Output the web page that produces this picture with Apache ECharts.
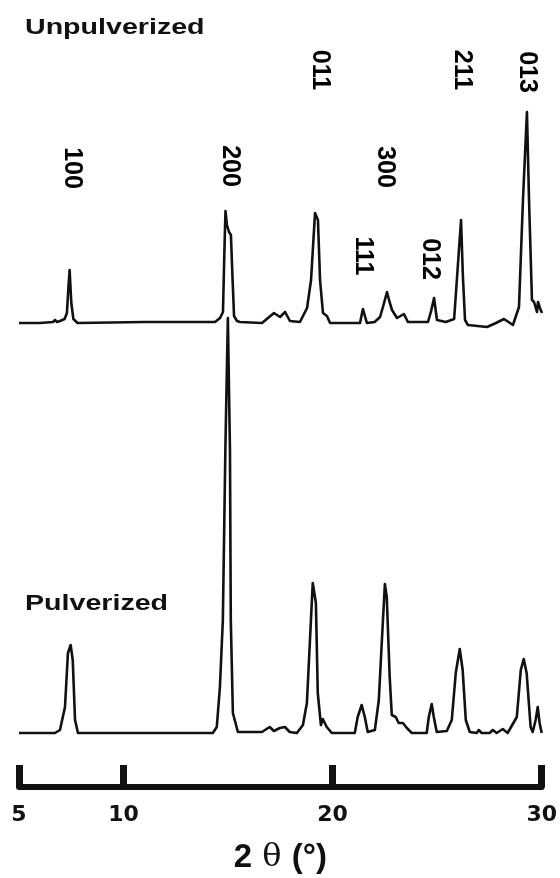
<!DOCTYPE html>
<html>
<head>
<meta charset="utf-8">
<script src="https://cdn.jsdelivr.net/npm/echarts@6/dist/echarts.min.js"></script>
<style>
  html, body { margin: 0; background: #fff; }
  #chart { width: 560px; height: 878px; }
</style>
</head>
<body>
<div id="chart"></div>
<script>
// XRD traces: [2θ (deg), intensity (a.u.)]
const unpulverized = [
  [5.0,0],[6.0,0],[6.62,1],[6.72,3],[6.82,1],[6.96,2],[7.18,4],[7.29,10],[7.36,35],[7.42,53],
  [7.5,20],[7.6,4],[7.8,0],[11.0,1],[14.37,1],[14.61,5],[14.75,11],[14.82,73],[14.87,112],
  [14.94,98],[15.04,91],[15.13,88],[15.21,43],[15.28,7],[15.42,2],[15.56,1],[16.62,0],
  [16.9,5],[17.19,10],[17.48,6],[17.72,11],[17.95,2],[18.43,1],[18.77,15],[18.96,43],
  [19.15,110],[19.29,103],[19.39,43],[19.53,10],[19.72,7],[19.87,0],[21.3,0],[21.44,14],
  [21.63,0],[22.0,1],[22.26,6],[22.45,20],[22.59,31],[22.7,22],[22.83,13],[23.07,5],
  [23.4,9],[23.59,1],[24.55,1],[24.7,12],[24.84,25],[24.98,3],[25.4,1],[25.8,4],
  [25.94,46],[26.03,48],[26.13,103],[26.22,46],[26.32,3],[26.46,-2],[27.37,-4],[27.8,0],
  [28.18,4],[28.4,1],[28.61,-2],[28.9,16],[29.09,123],[29.28,211],[29.38,123],[29.52,23],
  [29.62,21],[29.76,11],[29.81,21],[29.9,15],[30.0,10]
];
const pulverized = [
  [5.0,0],[6.72,0],[6.96,3],[7.2,26],[7.34,80],[7.47,88],[7.57,73],[7.68,13],[7.82,0],
  [14.27,0],[14.46,6],[14.61,46],[14.75,113],[14.87,283],[14.99,415],[15.09,283],[15.13,113],
  [15.23,20],[15.47,1],[16.62,1],[16.99,6],[17.19,2],[17.48,5],[17.72,6],[17.95,1],[18.29,0],
  [18.58,8],[18.77,30],[18.91,90],[19.05,150],[19.2,130],[19.29,40],[19.44,8],[19.53,14],
  [19.72,6],[19.96,0],[21.06,0],[21.2,16],[21.39,28],[21.54,16],[21.68,1],[22.02,3],
  [22.21,33],[22.35,90],[22.5,149],[22.59,136],[22.73,56],[22.83,18],[23.02,16],[23.16,10],
  [23.36,10],[23.55,5],[23.79,0],[24.5,0],[24.6,16],[24.74,29],[24.84,16],[24.98,1],
  [25.46,2],[25.7,13],[25.89,60],[26.08,84],[26.22,63],[26.37,13],[26.56,1],[26.89,0],
  [26.99,3],[27.13,0],[27.51,0],[27.66,3],[27.85,0],[28.14,4],[28.37,0],[28.81,16],
  [29.0,63],[29.14,74],[29.28,60],[29.47,6],[29.57,1],[29.71,13],[29.81,26],[29.9,10],[30.0,0]
];

// Miller indices written above the unpulverized trace
const peakNames = ['100', '200', '011', '111', '300', '012', '211', '013'];
const peakTheta = [7.53, 15.09, 19.39, 21.44, 22.5, 24.65, 26.18, 29.28];
const peakLabelHeight = [155, 157, 253, 67, 156, 64, 253, 251];

const xTicks = [5, 10, 20, 30];

const chart = echarts.init(document.getElementById('chart'));

const lineSeries = (data, idx) => ({
  type: 'line',
  xAxisIndex: idx,
  yAxisIndex: idx,
  data: data,
  symbol: 'none',
  clip: false,
  silent: true,
  lineStyle: { color: '#111', width: 2.6, join: 'round' }
});

chart.setOption({
  animation: false,
  backgroundColor: '#fff',
  grid: [
    { left: 19, right: 18, top: 63, bottom: 555 },
    { left: 19, right: 18, top: 303, bottom: 145 }
  ],
  xAxis: [
    { gridIndex: 0, type: 'value', min: 5, max: 30, show: false },
    {
      gridIndex: 1, type: 'value', min: 5, max: 30,
      position: 'bottom', offset: 54,
      name: '{b|2}{t| θ }{b|(°)}',
      nameLocation: 'middle',
      nameGap: 54,
      nameTextStyle: {
        rich: {
          b: { fontSize: 33, fontWeight: 'bold', fontFamily: 'Liberation Sans', color: '#111' },
          t: { fontSize: 32, fontFamily: 'DejaVu Serif', color: '#111' }
        }
      },
      axisLine: { onZero: false, lineStyle: { color: '#111', width: 6 } },
      axisTick: { inside: true, length: 22, customValues: xTicks, lineStyle: { color: '#111', width: 7 } },
      axisLabel: {
        customValues: xTicks, margin: 17,
        fontSize: 22, fontWeight: 'bold', fontFamily: 'DejaVu Sans', color: '#111'
      },
      splitLine: { show: false }
    }
  ],
  yAxis: [
    { gridIndex: 0, type: 'value', min: 0, max: 260, show: false },
    { gridIndex: 1, type: 'value', min: 0, max: 430, show: false }
  ],
  series: [
    lineSeries(unpulverized, 0),
    lineSeries(pulverized, 1),
    {
      type: 'scatter',
      xAxisIndex: 0, yAxisIndex: 0,
      symbolSize: 0,
      itemStyle: { color: '#111' },
      silent: true,
      data: peakNames.map((n, i) => [peakTheta[i], peakLabelHeight[i], n]),
      label: {
        show: true, position: 'inside', rotate: -90,
        formatter: p => p.data[2],
        opacity: 1,
        textBorderWidth: 0,
        fontSize: 25, fontWeight: 'bold', fontFamily: 'Liberation Sans', color: '#000'
      }
    }
  ],
  graphic: [
    {
      type: 'text', x: 25, y: 17, scaleX: 1.3,
      style: { text: 'Unpulverized', fontSize: 22, fontWeight: 'bold', fontFamily: 'Liberation Sans', fill: '#111', verticalAlign: 'top' }
    },
    {
      type: 'text', x: 25, y: 593, scaleX: 1.3,
      style: { text: 'Pulverized', fontSize: 22, fontWeight: 'bold', fontFamily: 'Liberation Sans', fill: '#111', verticalAlign: 'top' }
    }
  ]
});
</script>
</body>
</html>
